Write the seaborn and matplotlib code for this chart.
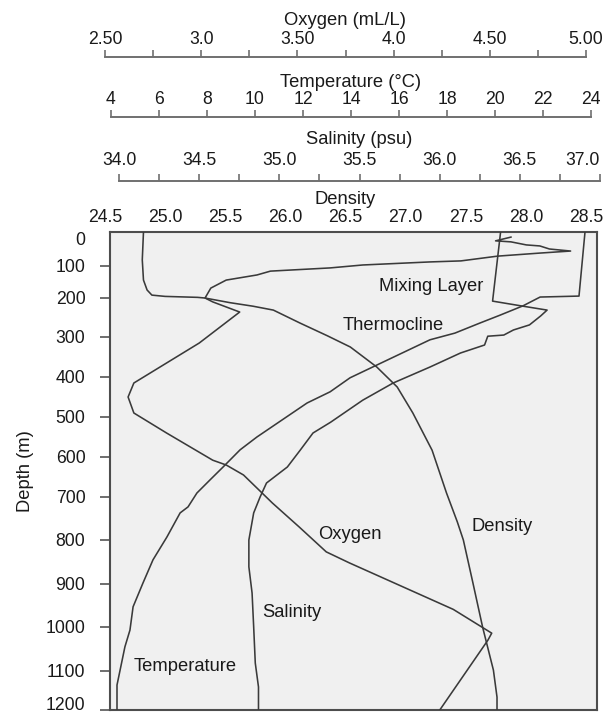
import numpy as np
import matplotlib
matplotlib.use("Agg")
import matplotlib.pyplot as plt
import seaborn as sns

# ---------------- data ----------------
oxygen_val = [4.61, 4.53, 4.61, 4.69, 4.76, 4.81, 4.92, 4.76, 4.54, 4.35, 4.19, 3.84,
              3.67, 3.36, 3.29, 3.13, 3.05, 3.02, 3.06, 3.13, 3.20, 2.99, 2.82, 2.65,
              2.62, 2.65, 2.82, 3.06, 3.13, 3.22, 3.37, 3.51, 3.65, 3.77, 4.31, 4.51,
              4.49, 4.24]
oxygen_depth = [15, 26, 29, 38, 41, 50, 56, 62, 71, 85, 88, 97,
                106, 116, 128, 144, 169, 200, 210, 223, 236, 315, 365, 415,
                450, 490, 540, 608, 620, 645, 714, 770, 827, 852, 959, 1014,
                1030, 1200]

temp_val = [23.75, 23.5, 21.88, 21.17, 20.21, 19.38, 18.33, 17.29, 15.08, 13.96,
            13.13, 12.17, 10.08, 9.38, 8.67, 8.13, 7.58, 7.21, 6.88, 6.33, 5.75,
            5.33, 4.92, 4.79, 4.58, 4.25, 4.25]
temp_depth = [0, 194, 197, 220, 244, 264, 290, 307, 370, 402,
              437, 465, 550, 582, 625, 657, 690, 723, 737, 793, 845,
              898, 953, 1007, 1045, 1136, 1200]

sal_val = [36.38, 36.33, 36.52, 36.67, 36.63, 36.56, 36.46, 36.40, 36.30, 36.28,
           36.13, 35.94, 35.71, 35.52, 35.32, 35.21, 35.13, 35.05, 34.92, 34.88,
           34.84, 34.81, 34.81, 34.83, 34.84, 34.85, 34.87, 34.87]
sal_depth = [0, 208, 221, 231, 246, 269, 282, 295, 298, 320,
             340, 375, 415, 458, 513, 540, 583, 625, 665, 700,
             737, 800, 861, 921, 1000, 1082, 1141, 1200]

dens_val = [24.82, 24.81, 24.82, 24.85, 24.89, 25.00, 25.27, 25.33, 25.54, 25.73,
            25.90, 26.12, 26.35, 26.54, 26.76, 26.93, 27.06, 27.22, 27.34, 27.43,
            27.48, 27.56, 27.64, 27.73, 27.76, 27.76]
dens_depth = [0, 82, 144, 175, 191, 195, 198, 200, 212, 221,
              231, 264, 297, 325, 375, 425, 490, 583, 690, 758,
              800, 898, 1000, 1098, 1167, 1200]

depth_ticks = list(range(0, 1300, 100))
oxy_ticks = list(np.arange(2.5, 5.001, 0.25))
oxy_labels = ['2.50', '', '3.0', '', '3.50', '', '4.0', '', '4.50', '', '5.00']
temp_ticks = list(range(4, 25, 2))
temp_labels = [str(t) for t in temp_ticks]
sal_ticks = list(np.arange(34.0, 37.001, 0.25))
sal_labels = ['34.0', '', '34.5', '', '35.0', '', '35.5', '', '36.0', '', '36.5', '', '37.0']
dens_ticks = list(np.arange(24.5, 28.501, 0.5))
dens_labels = ['%.1f' % v for v in dens_ticks]

labels_text = ['Mixing Layer', 'Thermocline', 'Oxygen', 'Density', 'Salinity', 'Temperature']

# ---------------- style ----------------
plt.rcParams['font.family'] = ['Liberation Sans', 'DejaVu Sans']
TXT = '#1a1a1a'
LINE = '#3a3a3a'
AXC = '#707070'
W, H = 612, 713

fig = plt.figure(figsize=(W / 100, H / 100), dpi=100)

# depth axis of the original figure is slightly non-uniform: piecewise scale
_sd = np.array([-1e4] + depth_ticks + [1e5], dtype=float)
_sp = np.array([232 - 1e4 * 0.34, 232, 266, 298, 337, 377, 417, 457, 497, 540, 584,
                627, 671, 710, 710 + (1e5 - 1200) * 0.39])


def _fwd(d):
    return np.interp(d, _sd, _sp)


def _inv(p):
    return np.interp(p, _sp, _sd)


box_bottom = 3 / H
box_h = 478 / H
ax = fig.add_axes([110 / W, box_bottom, 487 / W, box_h])
ax.set_facecolor('#f0f0f0')
ax.set_yscale('function', functions=(_fwd, _inv))
ax.set_xticks([])
for s in ax.spines.values():
    s.set_color('#4d4d4d')
    s.set_linewidth(1.5)
ax.set_yticks(depth_ticks)
ax.set_yticklabels([str(d) for d in depth_ticks])
ax.tick_params(axis='y', length=7.2, width=1.2, color='#555555', pad=10.5,
               labelsize=12.7, labelcolor=TXT)
ax.yaxis.get_major_ticks()[0].tick1line.set_visible(False)
ax.get_yticklabels()[0].set_va('top')
ax.get_yticklabels()[-1].set_va('baseline')
ax.set_ylabel('Depth (m)', fontsize=13.2, color=TXT)
ax.yaxis.set_label_coords(-0.156, 0.5)


def overlay(x0, x1, lim):
    a = fig.add_axes([x0 / W, box_bottom, (x1 - x0) / W, box_h], sharey=ax)
    a.patch.set_visible(False)
    a.set_xlim(lim)
    for s in ['left', 'right', 'bottom']:
        a.spines[s].set_visible(False)
    a.tick_params(axis='y', left=False, labelleft=False, right=False)
    a.xaxis.tick_top()
    a.xaxis.set_label_position('top')
    return a


def frac(ypix):
    return (710 - ypix) / 478


# Oxygen
ax_o = overlay(105, 586, (2.5, 5.0))
ax_o.spines['top'].set_position(('axes', frac(57)))
# Temperature
ax_t = overlay(111, 591, (4, 24))
ax_t.spines['top'].set_position(('axes', frac(117.3)))
# Salinity
ax_s = overlay(119, 600, (34.0, 37.0))
ax_s.spines['top'].set_position(('axes', frac(180.5)))
# Density
ax_d = overlay(105, 586, (24.5, 28.5))
ax_d.spines['top'].set_visible(False)

axis_specs = [
    (ax_o, oxy_ticks, oxy_labels, 'Oxygen (mL/L)', 1.5, 4.5),
    (ax_t, temp_ticks, temp_labels, 'Temperature (°C)', 1.8, 2.5),
    (ax_s, sal_ticks, sal_labels, 'Salinity (psu)', 3.0, 6.0),
]
for a, ticks, labs, title, pad, lpad in axis_specs:
    a.spines['top'].set_color(AXC)
    a.spines['top'].set_linewidth(1.4)
    a.set_xticks(ticks)
    a.set_xticklabels(labs)
    a.tick_params(axis='x', direction='out', length=5, width=1.2, color=AXC,
                  labelsize=12.7, labelcolor=TXT, pad=pad)
    a.set_xlabel(title, fontsize=13.2, color=TXT, labelpad=lpad)

# last salinity label sits inside the figure edge, as in the original
ax_s.get_xticklabels()[-1].set_ha('right')

ax_d.set_xticks(dens_ticks)
ax_d.set_xticklabels(dens_labels)
ax_d.tick_params(axis='x', length=0, labelsize=12.7, labelcolor=TXT, pad=4.6)
ax_d.set_xlabel('Density', fontsize=13.2, color=TXT, labelpad=3.5)

# curves
sns.lineplot(x=oxygen_val, y=oxygen_depth, sort=False, estimator=None, ax=ax_o,
             color=LINE, linewidth=1.15)
sns.lineplot(x=temp_val, y=temp_depth, sort=False, estimator=None, ax=ax_t,
             color=LINE, linewidth=1.15)
sns.lineplot(x=sal_val, y=sal_depth, sort=False, estimator=None, ax=ax_s,
             color=LINE, linewidth=1.15)
sns.lineplot(x=dens_val, y=dens_depth, sort=False, estimator=None, ax=ax_d,
             color=LINE, linewidth=1.15)

for a in (ax_o, ax_t, ax_s, ax_d):
    a.set_ylabel('')
ax.set_ylim(1200, 0)

# annotations (axes-fraction positions)
label_pos = [(0.659, 0.885), (0.581, 0.805), (0.493, 0.368),
             (0.805, 0.383), (0.374, 0.203), (0.154, 0.090)]
for t, (px, py) in zip(labels_text, label_pos):
    ax.text(px, py, t, transform=ax.transAxes, ha='center', va='center',
            fontsize=13.2, color=TXT, zorder=5)

fig.savefig('out.png', dpi=100)
